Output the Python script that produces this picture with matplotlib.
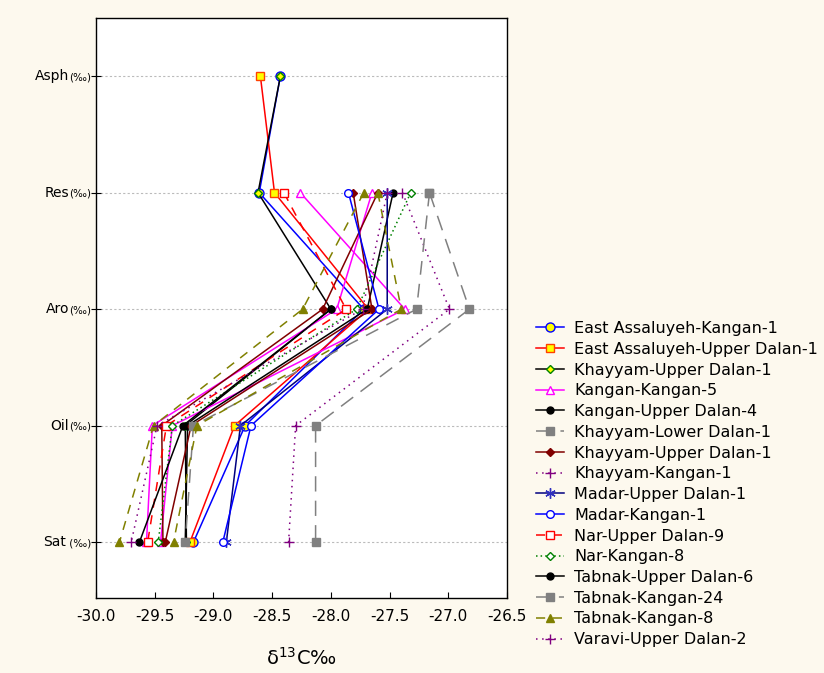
import numpy as np
import matplotlib
matplotlib.use("Agg")
import matplotlib.pyplot as plt

plt.rcParams['font.family'] = ['DejaVu Sans']
plt.rcParams['axes.unicode_minus'] = False

# DATOS
nan = np.nan
categorias = ["Asph", "Res", "Aro", "Oil", "Sat"]
sufijos = ["(‰)", "(‰)", "(‰)", "(‰)", " (‰)"]
xticks = [-30.0, -29.5, -29.0, -28.5, -28.0, -27.5, -27.0, -26.5]

# valores d13C por fraccion: Asph, Res, Aro, Oil, Sat
ea_kangan_1 = [-28.43, -28.61, -27.72, -28.73, -29.17]
ea_upper_dalan_1 = [-28.60, -28.48, -27.68, -28.82, -29.20]
khayyam_ud_1_negro = [-28.43, -28.62, -28.00, -29.24, -29.23]
kangan_kangan_5_a = [nan, -28.26, -27.37, -29.35, -29.45]
kangan_kangan_5_b = [nan, -27.65, -27.95, -29.52, -29.57]
kangan_ud_4 = [nan, -27.47, -27.69, -29.22, -29.24]
khayyam_lower_dalan_1 = [nan, -27.16, -26.82, -28.13, -28.13]
khayyam_ud_1_rojo_a = [nan, -27.81, -27.65, -29.19, -29.41]
khayyam_ud_1_rojo_b = [nan, -27.60, -28.07, -29.44, -29.43]
khayyam_kangan_1 = [nan, -27.39, -26.99, -28.30, -28.36]
madar_ud_1 = [nan, -27.52, -27.52, -28.77, -28.89]
madar_kangan_1 = [nan, -27.85, -27.59, -28.68, -28.92]
nar_ud_9 = [nan, -28.40, -27.87, -29.40, -29.56]
nar_kangan_8 = [nan, -27.32, -27.78, -29.35, -29.47]
tabnak_ud_6 = [nan, nan, -28.00, -29.26, -29.63]
tabnak_kangan_24 = [nan, -27.16, -27.27, -29.17, -29.24]
tabnak_kangan_8_a = [nan, -27.72, -28.24, -29.51, -29.80]
tabnak_kangan_8_b = [nan, -27.60, -27.40, -29.14, -29.34]
varavi_ud_2 = [nan, -27.52, -27.73, -29.48, -29.70]

asterisco = (6, 2, 0)
series = [
    ("East Assaluyeh-Kangan-1", [ea_kangan_1],
     dict(color='#0000FF', ls='-', marker='o', ms=6.5, mfc='#FFFF00', mec='#0000FF')),
    ("East Assaluyeh-Upper Dalan-1", [ea_upper_dalan_1],
     dict(color='#FF0000', ls='-', marker='s', ms=5.5, mfc='#FFFF00', mec='#FF4000')),
    ("Khayyam-Upper Dalan-1", [khayyam_ud_1_negro],
     dict(color='#000000', ls='-', marker='D', ms=3.8, mfc='#FFFF00', mec='#008000')),
    ("Kangan-Kangan-5", [kangan_kangan_5_a, kangan_kangan_5_b],
     dict(color='#FF00FF', ls='-', marker='^', ms=6, mfc='white', mec='#FF00FF')),
    ("Kangan-Upper Dalan-4", [kangan_ud_4],
     dict(color='#000000', ls='-', marker='o', ms=5, mfc='#000000', mec='#000000')),
    ("Khayyam-Lower Dalan-1", [khayyam_lower_dalan_1],
     dict(color='#808080', ls=(0, (10, 6)), marker='s', ms=5.5, mfc='#808080', mec='#808080')),
    ("Khayyam-Upper Dalan-1", [khayyam_ud_1_rojo_a, khayyam_ud_1_rojo_b],
     dict(color='#800000', ls='-', marker='D', ms=4.5, mfc='#800000', mec='#800000')),
    ("Khayyam-Kangan-1", [khayyam_kangan_1],
     dict(color='#800080', ls=(0, (1, 3)), marker='+', ms=7.5, mfc='#800080', mec='#800080')),
    ("Madar-Upper Dalan-1", [madar_ud_1],
     dict(color='#000080', ls='-', marker=asterisco, ms=7.5, mfc='#3030C0', mec='#3030C0', mew=1)),
    ("Madar-Kangan-1", [madar_kangan_1],
     dict(color='#0000FF', ls='-', marker='o', ms=5.5, mfc='white', mec='#0000FF')),
    ("Nar-Upper Dalan-9", [nar_ud_9],
     dict(color='#FF0000', ls=(0, (6, 5)), marker='s', ms=5.5, mfc='white', mec='#FF0000')),
    ("Nar-Kangan-8", [nar_kangan_8],
     dict(color='#008000', ls=(0, (1, 2)), marker='D', ms=4.5, mfc='white', mec='#008000')),
    ("Tabnak-Upper Dalan-6", [tabnak_ud_6],
     dict(color='#000000', ls='-', marker='o', ms=5, mfc='#000000', mec='#000000')),
    ("Tabnak-Kangan-24", [tabnak_kangan_24],
     dict(color='#808080', ls=(0, (9, 6)), marker='s', ms=5.5, mfc='#808080', mec='#808080')),
    ("Tabnak-Kangan-8", [tabnak_kangan_8_a, tabnak_kangan_8_b],
     dict(color='#808000', ls=(0, (6, 5)), marker='^', ms=6, mfc='#808000', mec='#808000')),
    ("Varavi-Upper Dalan-2", [varavi_ud_2],
     dict(color='#800080', ls=(0, (1, 3)), marker='+', ms=7.5, mfc='#800080', mec='#800080')),
]

fondo = '#FDF9EE'
fig = plt.figure(figsize=(8.24, 6.73), dpi=100, facecolor=fondo)
ax = fig.add_axes([96/824, 1-598/673, 411/824, 580/673])
ax.set_facecolor('white')

ypos = np.arange(len(categorias))
handles = []
labels = []
for nombre, curvas, estilo in series:
    for k, vals in enumerate(curvas):
        v = np.array(vals, dtype=float)
        ok = ~np.isnan(v)
        ln, = ax.plot(v[ok], ypos[ok], lw=1.1, **estilo)
        if k == 0:
            handles.append(ln)
            labels.append(nombre)

ax.set_xlim(-30.0, -26.5)
ax.set_ylim(4.48, -0.5)
ax.set_xticks(xticks)
ax.set_xticklabels(["%.1f" % t for t in xticks], fontsize=11)
ax.set_yticks(ypos)
ax.set_yticklabels([""] * len(categorias))
ax.tick_params(axis='x', direction='in', length=4, pad=8)
ax.tick_params(axis='y', direction='inout', length=7)
ax.grid(axis='y', color='#BBBBBB', ls=(0, (2, 2)), lw=0.8)
ax.set_axisbelow(True)
for s in ax.spines.values():
    s.set_linewidth(1.0)

# etiquetas del eje y: nombre + (‰) mas pequeno
fig.canvas.draw()
rend = fig.canvas.get_renderer()
for i, (c, suf) in enumerate(zip(categorias, sufijos)):
    t2 = ax.annotate(suf, xy=(0, i), xycoords=('axes fraction', 'data'),
                     xytext=(-5, -4), textcoords='offset pixels',
                     ha='right', va='baseline', fontsize=7.5)
    w = t2.get_window_extent(rend).width
    ax.annotate(c, xy=(0, i), xycoords=('axes fraction', 'data'),
                xytext=(-5 - w, -4), textcoords='offset pixels',
                ha='right', va='baseline', fontsize=10)

fig.text(301/824, 1-658/673, "δ$^{13}$C‰", ha='center', va='center', fontsize=14)

fig.legend(handles, labels, loc='upper left', bbox_to_anchor=(536/824, 1-321/673),
           frameon=False, fontsize=11.5, handlelength=1.75, handletextpad=0.65,
           labelspacing=0.36, borderpad=0, borderaxespad=0, numpoints=1)

fig.savefig("out.png", dpi=100, facecolor=fondo)
